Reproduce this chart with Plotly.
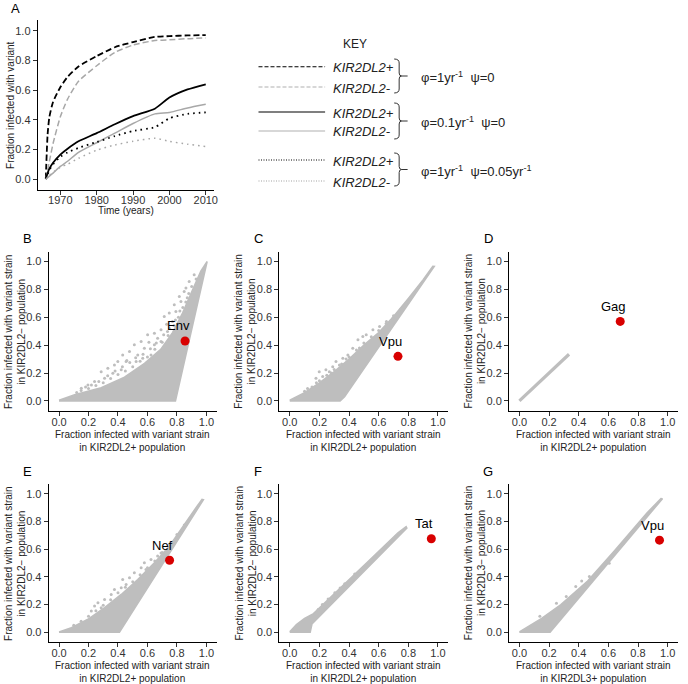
import plotly.graph_objects as go

W, H = 688, 684
FONT = "Liberation Sans, Arial, sans-serif"
GREY = "#bebebe"
RED = "#d80000"


def fx(p):
    return p / W


def fy(p):
    return 1 - p / H


# ---------------- Panel A data ----------------
years = [1966, 1966.5, 1967, 1968, 1970, 1972, 1975, 1980, 1985, 1990, 1996, 2000, 2005, 2010]
a_phi1_pos = [0.0, 0.30, 0.42, 0.52, 0.62, 0.69, 0.76, 0.83, 0.89, 0.925, 0.96, 0.965, 0.97, 0.972]
a_phi1_neg = [0.0, 0.06, 0.12, 0.24, 0.42, 0.54, 0.66, 0.765, 0.855, 0.905, 0.935, 0.94, 0.948, 0.953]
a_phi01_pos = [0.0, 0.04, 0.07, 0.11, 0.165, 0.205, 0.255, 0.31, 0.37, 0.425, 0.475, 0.55, 0.605, 0.64]
a_phi01_neg = [0.0, 0.01, 0.02, 0.04, 0.085, 0.12, 0.18, 0.245, 0.31, 0.375, 0.44, 0.45, 0.48, 0.505]
a_psi_pos = [0.0, 0.03, 0.06, 0.10, 0.15, 0.18, 0.21, 0.25, 0.29, 0.325, 0.35, 0.41, 0.44, 0.45]
a_psi_neg = [0.0, 0.01, 0.025, 0.045, 0.08, 0.10, 0.14, 0.195, 0.23, 0.255, 0.275, 0.255, 0.235, 0.22]
year_ticks = [1970, 1980, 1990, 2000, 2010]
frac_ticks = [0.0, 0.2, 0.4, 0.6, 0.8, 1.0]

# ---------------- Scatter panels: dense-cloud outlines and sparse points ----------------
cloud_B_x = [0.0, 0.79, 1.005, 0.962, 0.895, 0.838, 0.77, 0.69, 0.58, 0.444, 0.286, 0.106, 0.0]
cloud_B_y = [0.0, 0.0, 1.0, 0.93, 0.77, 0.63, 0.49, 0.37, 0.27, 0.17, 0.095, 0.045, 0.005]
sparse_B_x = [0.714, 0.748, 0.782, 0.816, 0.849, 0.827, 0.647, 0.692, 0.601, 0.557, 0.511, 0.478, 0.432,
              0.399, 0.455, 0.534, 0.579, 0.647, 0.624, 0.376, 0.331, 0.286, 0.309, 0.241, 0.196, 0.151,
              0.692, 0.736, 0.77, 0.793, 0.523, 0.422, 0.365, 0.568, 0.669, 0.861, 0.883, 0.917,
              0.15, 0.2, 0.25, 0.3, 0.35, 0.4, 0.45, 0.5, 0.55, 0.6, 0.65, 0.7, 0.74, 0.78, 0.81,
              0.84, 0.87, 0.9, 0.93, 0.22, 0.27, 0.33, 0.38, 0.43, 0.48, 0.52, 0.57, 0.62, 0.66,
              0.71, 0.75, 0.79, 0.82, 0.86, 0.88, 0.12, 0.18, 0.46, 0.61, 0.73]
sparse_B_y = [0.605, 0.63, 0.69, 0.749, 0.785, 0.713, 0.486, 0.51, 0.474, 0.426, 0.402, 0.354, 0.33,
              0.282, 0.282, 0.33, 0.378, 0.402, 0.33, 0.258, 0.235, 0.21, 0.163, 0.139, 0.115, 0.091,
              0.426, 0.498, 0.569, 0.641, 0.282, 0.223, 0.199, 0.306, 0.45, 0.809, 0.856, 0.904,
              0.075, 0.09, 0.11, 0.13, 0.16, 0.19, 0.215, 0.245, 0.285, 0.315, 0.37, 0.42, 0.47, 0.54, 0.6,
              0.67, 0.74, 0.82, 0.875, 0.115, 0.14, 0.18, 0.215, 0.245, 0.275, 0.31, 0.335, 0.375, 0.415,
              0.475, 0.52, 0.58, 0.645, 0.71, 0.77, 0.06, 0.1, 0.29, 0.42, 0.55]

cloud_C_x = [0.0, 0.34, 0.37, 0.975, 0.965, 0.9, 0.8, 0.7, 0.6, 0.5, 0.4, 0.3, 0.2, 0.1, 0.0]
cloud_C_y = [0.0, 0.0, 0.03, 0.964, 0.965, 0.87, 0.735, 0.605, 0.49, 0.4, 0.3, 0.21, 0.13, 0.06, 0.005]
sparse_C_x = [0.493, 0.516, 0.46, 0.425, 0.392, 0.358, 0.312, 0.29, 0.244, 0.199, 0.177, 0.606, 0.652,
              0.697, 0.561, 0.222, 0.335, 0.267,
              0.1, 0.15, 0.2, 0.25, 0.3, 0.35, 0.4, 0.45, 0.5, 0.55, 0.6, 0.65, 0.7, 0.75, 0.8,
              0.12, 0.18, 0.28, 0.38, 0.47]
sparse_C_y = [0.462, 0.474, 0.438, 0.378, 0.33, 0.306, 0.282, 0.246, 0.223, 0.21, 0.163, 0.533, 0.569,
              0.594, 0.51, 0.175, 0.258, 0.21,
              0.07, 0.1, 0.145, 0.185, 0.225, 0.265, 0.315, 0.365, 0.415, 0.46, 0.505, 0.555, 0.61, 0.66, 0.71,
              0.09, 0.13, 0.2, 0.3, 0.38]

line_D_x = [0.0, 0.335]
line_D_y = [0.0, 0.335]

cloud_E_x = [0.0, 0.41, 0.98, 0.97, 0.928, 0.849, 0.748, 0.647, 0.534, 0.422, 0.309, 0.196, 0.084, 0.0]
cloud_E_y = [0.0, 0.0, 0.957, 0.96, 0.897, 0.777, 0.621, 0.501, 0.381, 0.273, 0.178, 0.094, 0.034, 0.003]
sparse_E_x = [0.579, 0.557, 0.511, 0.478, 0.455, 0.422, 0.376, 0.354, 0.309, 0.264, 0.241, 0.219, 0.624,
              0.669, 0.59, 0.432, 0.286, 0.692, 0.534,
              0.1, 0.15, 0.2, 0.25, 0.3, 0.35, 0.4, 0.45, 0.5, 0.55, 0.6, 0.65, 0.7, 0.75, 0.8, 0.85]
sparse_E_y = [0.501, 0.465, 0.429, 0.394, 0.345, 0.322, 0.309, 0.273, 0.237, 0.214, 0.19, 0.154, 0.525,
              0.55, 0.453, 0.381, 0.178, 0.573, 0.345,
              0.05, 0.08, 0.115, 0.155, 0.195, 0.235, 0.285, 0.325, 0.365, 0.415, 0.465, 0.515, 0.575, 0.635,
              0.705, 0.775]

cloud_F_x = [0.0, 0.138, 0.15, 0.79, 0.785, 0.73, 0.53, 0.306, 0.16, 0.1, 0.045, 0.0]
cloud_F_y = [0.0, 0.0, 0.06, 0.752, 0.762, 0.718, 0.512, 0.285, 0.135, 0.1, 0.055, 0.003]
sparse_F_x = [0.192, 0.259, 0.304, 0.371, 0.438, 0.22, 0.34]
sparse_F_y = [0.165, 0.24, 0.285, 0.35, 0.42, 0.2, 0.32]

cloud_G_x = [0.0, 0.207, 0.965, 0.955, 0.86, 0.64, 0.46, 0.28, 0.15, 0.06, 0.0]
cloud_G_y = [0.0, 0.0, 0.964, 0.965, 0.861, 0.586, 0.37, 0.2, 0.1, 0.045, 0.003]
sparse_G_x = [0.316, 0.472, 0.606, 0.138, 0.38, 0.54, 0.25, 0.42, 0.7]
sparse_G_y = [0.259, 0.403, 0.499, 0.115, 0.33, 0.455, 0.21, 0.37, 0.64]

# highlighted genes
gene_names = ["Env", "Vpu", "Gag", "Nef", "Tat", "Vpu"]
gene_x = [0.855, 0.73, 0.68, 0.75, 0.955, 0.945]
gene_y = [0.43, 0.32, 0.57, 0.52, 0.675, 0.665]

# ---------------- Layout geometry (pixels) ----------------
panel_A = dict(x=(38, 215), y=(20, 190))
cols = [(49, 218), (281, 451), (512, 682)]
rows = [(251.7, 410.7), (484, 642)]
scatter_panels = [  # (letter, col, row)
    ("B", 0, 0), ("C", 1, 0), ("D", 2, 0), ("E", 0, 1), ("F", 1, 1), ("G", 2, 1)
]

fig = go.Figure()

axis_style = dict(
    showline=True, linecolor="black", linewidth=1.1, ticks="outside", ticklen=4,
    tickwidth=1, tickcolor="#333", tickfont=dict(size=11, color="#333", family=FONT),
    showgrid=False, zeroline=False,
)


def dom_x(c):
    return [fx(c[0]), fx(c[1])]


def dom_y(r):
    return [fy(r[1]), fy(r[0])]


layout = dict(
    width=W, height=H, margin=dict(l=0, r=0, t=0, b=0),
    paper_bgcolor="white", plot_bgcolor="white", showlegend=False,
    font=dict(family=FONT, color="black"),
)

# Panel A axes
layout["xaxis"] = dict(axis_style, domain=dom_x(panel_A["x"]), anchor="y",
                       range=[1963.8, 2012.2], tickvals=year_ticks, ticklabelstandoff=-4)
layout["yaxis"] = dict(axis_style, domain=dom_y(panel_A["y"]), anchor="x",
                       range=[-0.074, 1.074], tickvals=frac_ticks, tickformat=".1f")

for i, (letter, c, r) in enumerate(scatter_panels):
    n = i + 2
    layout[f"xaxis{n}"] = dict(axis_style, domain=dom_x(cols[c]), anchor=f"y{n}",
                               range=[-0.07, 1.07], tickvals=frac_ticks, tickformat=".1f",
                               ticklabelstandoff=-3)
    layout[f"yaxis{n}"] = dict(axis_style, domain=dom_y(rows[r]), anchor=f"x{n}",
                               range=[-0.07, 1.07], tickvals=frac_ticks, tickformat=".1f")

fig.update_layout(**layout)

# ---- Panel A traces ----
BLACK = "black"
LGREY = "#a8a8a8"
a_series = [
    (a_phi1_pos, BLACK, "6px,3px", 1.8),
    (a_phi1_neg, LGREY, "6px,3px", 1.5),
    (a_phi01_pos, BLACK, "solid", 1.8),
    (a_phi01_neg, LGREY, "solid", 1.5),
    (a_psi_pos, BLACK, "1.6px,4px", 1.8),
    (a_psi_neg, LGREY, "1.6px,4px", 1.5),
]
for ys, col, dash, w in a_series:
    fig.add_trace(go.Scatter(x=years, y=ys, mode="lines", xaxis="x", yaxis="y",
                             line=dict(color=col, dash=dash, width=w, shape="spline", smoothing=0.6),
                             hoverinfo="skip"))

# ---- Scatter panels ----
clouds = {
    "B": (cloud_B_x, cloud_B_y, sparse_B_x, sparse_B_y),
    "C": (cloud_C_x, cloud_C_y, sparse_C_x, sparse_C_y),
    "E": (cloud_E_x, cloud_E_y, sparse_E_x, sparse_E_y),
    "F": (cloud_F_x, cloud_F_y, sparse_F_x, sparse_F_y),
    "G": (cloud_G_x, cloud_G_y, sparse_G_x, sparse_G_y),
}
annotations = []
for i, (letter, c, r) in enumerate(scatter_panels):
    n = i + 2
    xa, ya = f"x{n}", f"y{n}"
    if letter in clouds:
        cx, cy, sx, sy = clouds[letter]
        fig.add_trace(go.Scatter(x=cx, y=cy, mode="lines", fill="toself", fillcolor=GREY,
                                 line=dict(color=GREY, width=1.5), xaxis=xa, yaxis=ya,
                                 hoverinfo="skip"))
        fig.add_trace(go.Scatter(x=sx, y=sy, mode="markers", marker=dict(color=GREY, size=3),
                                 xaxis=xa, yaxis=ya, hoverinfo="skip"))
    else:
        fig.add_trace(go.Scatter(x=line_D_x, y=line_D_y, mode="lines",
                                 line=dict(color=GREY, width=3.2), xaxis=xa, yaxis=ya,
                                 hoverinfo="skip"))
    fig.add_trace(go.Scatter(x=[gene_x[i]], y=[gene_y[i]], mode="markers",
                             marker=dict(color=RED, size=9), xaxis=xa, yaxis=ya,
                             hoverinfo="skip"))
    annotations.append(dict(x=gene_x[i], y=gene_y[i], xref=xa, yref=ya, text=gene_names[i],
                            showarrow=False, xshift=-7, yshift=15,
                            font=dict(size=13, color="black", family=FONT)))

    # axis titles
    ypop = "KIR2DL3" if letter == "G" else "KIR2DL2"
    x0, x1 = cols[c]
    y0, y1 = rows[r]
    annotations.append(dict(
        x=fx(x0 - 34), y=fy((y0 + y1) / 2), xref="paper", yref="paper", textangle=-90,
        text=f"Fraction infected with variant strain<br>in {ypop}\u2212 population",
        showarrow=False, xanchor="center", yanchor="middle",
        font=dict(size=10, color="#222", family=FONT)))
    annotations.append(dict(
        x=fx((x0 + x1) / 2), y=fy(y1 + 30), xref="paper", yref="paper",
        text=f"Fraction infected with variant strain<br>in {ypop}+ population",
        showarrow=False, xanchor="center", yanchor="middle",
        font=dict(size=10, color="#222", family=FONT)))
    # panel letter
    annotations.append(dict(x=fx(x0 - 21), y=fy(y0 - 13), xref="paper", yref="paper",
                            text=letter, showarrow=False, xanchor="center", yanchor="middle",
                            font=dict(size=13, color="black", family=FONT)))

# Panel A titles / letter
annotations += [
    dict(x=fx(16), y=fy(8), xref="paper", yref="paper", text="A", showarrow=False,
         xanchor="center", yanchor="middle", font=dict(size=13, family=FONT)),
    dict(x=fx(10), y=fy(105), xref="paper", yref="paper", text="Fraction infected with variant",
         textangle=-90, showarrow=False, xanchor="center", yanchor="middle",
         font=dict(size=10, color="#222", family=FONT)),
    dict(x=fx(126.5), y=fy(210), xref="paper", yref="paper", text="Time (years)",
         showarrow=False, xanchor="center", yanchor="middle",
         font=dict(size=10, color="#222", family=FONT)),
    dict(x=fx(357), y=fy(44), xref="paper", yref="paper", text="KEY",
         showarrow=False, xanchor="center", yanchor="middle",
         font=dict(size=12, color="#222", family=FONT)),
]

# KEY legend (decoration)
key_rows = [
    (66.7, "black", "4px,2px", "KIR2DL2+"),
    (87, "#b0b0b0", "4px,2px", "KIR2DL2-"),
    (112, "black", "solid", "KIR2DL2+"),
    (131, "#b0b0b0", "solid", "KIR2DL2-"),
    (160, "black", "1px,1.5px", "KIR2DL2+"),
    (181, "#a0a0a0", "1px,1.5px", "KIR2DL2-"),
]
shapes = []
for yk, col, dash, lab in key_rows:
    shapes.append(dict(type="line", xref="paper", yref="paper", x0=fx(260), x1=fx(327),
                       y0=fy(yk), y1=fy(yk), line=dict(color=col, width=1.1, dash=dash)))
    annotations.append(dict(x=fx(333), y=fy(yk + 1), xref="paper", yref="paper",
                            text=f"<i>{lab}</i>", showarrow=False, xanchor="left",
                            yanchor="middle", font=dict(size=13, color="#222", family=FONT)))

braces = [(59, 93, "\u03c6=1yr<sup>-1</sup>\u00a0\u00a0\u03c8=0"),
          (103, 139, "\u03c6=0.1yr<sup>-1</sup>\u00a0\u00a0\u03c8=0"),
          (153, 186, "\u03c6=1yr<sup>-1</sup>\u00a0\u00a0\u03c8=0.05yr<sup>-1</sup>")]
for yb0, yb1, txt in braces:
    ym = (yb0 + yb1) / 2
    xa, xb, xc = 396.5, 401.5, 404
    pts = [
        ("M", xa, yb0), ("Q", xb, yb0, xb, yb0 + 4), ("L", xb, ym - 3),
        ("Q", xb, ym, xc, ym), ("Q", xb, ym, xb, ym + 3), ("L", xb, yb1 - 4),
        ("Q", xb, yb1, xa, yb1),
    ]
    path = ""
    for p in pts:
        cmd = p[0]
        coords = p[1:]
        s = " ".join(f"{fx(coords[k]):.5f},{fy(coords[k + 1]):.5f}" for k in range(0, len(coords), 2))
        path += f"{cmd}{s} "
    shapes.append(dict(type="path", xref="paper", yref="paper", path=path.strip(),
                       line=dict(color="#333", width=1)))
    shapes.append(dict(type="line", xref="paper", yref="paper", x0=fx(404), x1=fx(410),
                       y0=fy(ym), y1=fy(ym), line=dict(color="#333", width=1)))
    annotations.append(dict(x=fx(421), y=fy(ym + 1), xref="paper", yref="paper", text=txt,
                            showarrow=False, xanchor="left", yanchor="middle",
                            font=dict(size=13, color="#222", family=FONT)))

fig.update_layout(annotations=annotations, shapes=shapes)
fig.write_html(
    "out.html",
    config={"displayModeBar": False},
    post_script="document.body.style.margin='0px';document.body.style.padding='0px';"
                "document.body.style.overflow='hidden';",
)
